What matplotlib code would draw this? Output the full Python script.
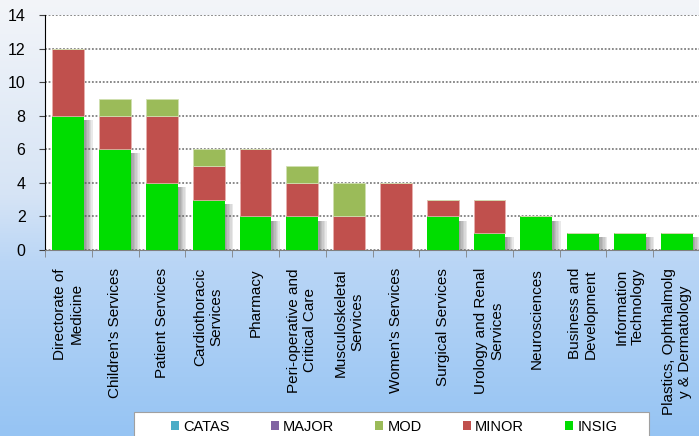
import matplotlib
matplotlib.use("Agg")
import matplotlib.pyplot as plt
import numpy as np
from matplotlib.patches import Rectangle, Patch

plt.rcParams['font.family'] = ['Liberation Sans', 'DejaVu Sans']

# data
categories = ["Directorate of\nMedicine", "Children's Services", "Patient Services",
              "Cardiothoracic\nServices", "Pharmacy", "Peri-operative and\nCritical Care",
              "Musculoskeletal\nServices", "Women's Services", "Surgical Services",
              "Urology and Renal\nServices", "Neurosciences", "Business and\nDevelopment",
              "Information\nTechnology", "Plastics, Ophthalmolg\ny & Dermatology"]
insig = [8, 6, 4, 3, 2, 2, 0, 0, 2, 1, 2, 1, 1, 1]
minor = [4, 2, 4, 2, 4, 2, 2, 4, 1, 2, 0, 0, 0, 0]
mod = [0, 1, 1, 1, 0, 1, 2, 0, 0, 0, 0, 0, 0, 0]
major = [0] * 14
catas = [0] * 14

series_names = ["CATAS", "MAJOR", "MOD", "MINOR", "INSIG"]
series_colors = {"CATAS": "#4BACC6", "MAJOR": "#8064A2", "MOD": "#9BBB59",
                 "MINOR": "#C0504D", "INSIG": "#00DD00"}

W, H = 699, 436
fig = plt.figure(figsize=(W / 100, H / 100), dpi=100)

# gradient background
bg = fig.add_axes([0, 0, 1, 1], zorder=-10)
stops = np.array([0.0, 0.45, 0.6, 1.0])
cols = np.array([[243, 245, 249], [214, 228, 245], [186, 214, 246], [150, 196, 243]]) / 255
yy = np.linspace(0, 1, 200)
grad = np.stack([np.interp(yy, stops, cols[:, i]) for i in range(3)], axis=1)
bg.imshow(grad[:, None, :], aspect='auto', extent=[0, 1, 1, 0])
bg.set_axis_off()

ax = fig.add_axes([45 / W, 1 - 250 / H, 655 / W, 235 / H])
ax.set_facecolor('white')

x = np.arange(len(categories))
bw = 0.68
insig = np.array(insig)
minor = np.array(minor)
mod = np.array(mod)

# soft shadow on the right of green segments
for i in range(6):
    ax.bar(x + bw / 2 + i * 0.03, np.where(insig > 0, insig - 0.25, 0), width=0.03,
           align='edge', color='#505050', alpha=0.55 - i * 0.085, linewidth=0, zorder=2)

ax.bar(x, insig, bw, color=series_colors["INSIG"], zorder=3, linewidth=0)
ax.bar(x, minor, bw, bottom=insig, color=series_colors["MINOR"], zorder=3,
       edgecolor='#E8B0AE', linewidth=0.6)
ax.bar(x, mod, bw, bottom=insig + minor, color=series_colors["MOD"], zorder=3,
       edgecolor='#D0E0B0', linewidth=0.6)

ax.set_xlim(-0.5, len(categories) - 0.5)
ax.set_ylim(0, 14)
ax.set_yticks(np.arange(0, 15, 2))
ax.yaxis.grid(True, color='#808080', linestyle=(0, (1, 1)), linewidth=1.3, zorder=1)
ax.set_axisbelow(True)

ax.set_xticks(x)
ax.set_xticklabels(categories, rotation=90, va='top', ha='center',
                   multialignment='center', fontsize=11)
ax.set_xticks(np.arange(-0.5, len(categories), 1), minor=True)
ax.tick_params(axis='x', which='major', length=0, pad=13)
ax.tick_params(axis='x', which='minor', length=5, color='#808080', direction='out')
ax.tick_params(axis='y', length=4, pad=10, labelsize=11.5, color='#404040')

for s in ['top', 'right']:
    ax.spines[s].set_visible(False)
ax.spines['left'].set_color('black')
ax.spines['bottom'].set_color('#808080')

# legend box
fig.patches.append(Rectangle((134 / W, -0.05), (649 - 134) / W, 0.05 + (1 - 412 / H),
                             transform=fig.transFigure, facecolor='white',
                             edgecolor='#A0A0A0', linewidth=0.8, zorder=5))
handles = [Patch(facecolor=series_colors[n]) for n in series_names]
fig.legend(handles, series_names, loc='center', bbox_to_anchor=(394 / W, 1 - 427 / H),
           ncol=5, frameon=False, fontsize=10.5, handlelength=0.55, handleheight=0.55,
           handletextpad=0.3, columnspacing=2.8)

fig.savefig("out.png", dpi=100)
